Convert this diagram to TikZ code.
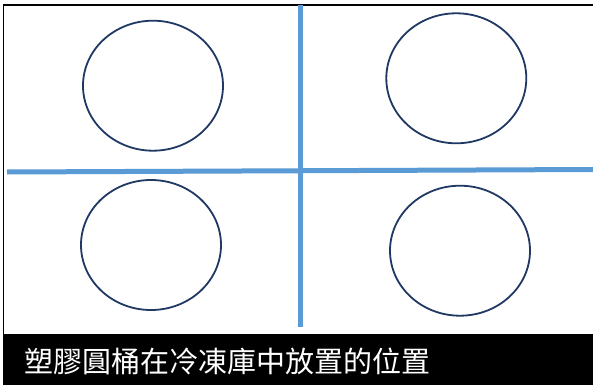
\documentclass[tikz,border=0pt]{standalone}
\usepackage{fontspec}
\newfontfamily\cjk{Noto Sans CJK TC}
\definecolor{gridblue}{RGB}{91,155,213}
\definecolor{tubnavy}{RGB}{31,56,100}
\begin{document}
\begin{tikzpicture}[x=1pt,y=-1pt,
  gridline/.style={draw=gridblue,line width=5pt},
  tub/.style={draw=tubnavy,line width=1.8pt},
  frameline/.style={draw=black,line width=1.6pt},
  caption/.style={text=white,font=\cjk\fontsize{29}{32}\selectfont,inner sep=0pt,anchor=base west}]
\useasboundingbox (0,0) rectangle (593,385);
\fill[white] (0,0) rectangle (593,385);
% frame
\coordinate (tl) at (3.5,5);
\coordinate (tr) at (593,5);
\coordinate (bl) at (3.5,334);
\draw[frameline] (tr) -- (tl) -- (bl);
\fill[black] (3,333.5) rectangle (593,385);
% grid lines
\coordinate (vtop) at (300,5);
\coordinate (vbot) at (300,327);
\coordinate (hl) at (7,172);
\coordinate (hr) at (593,169.5);
\draw[gridline] (vtop) -- (vbot);
\draw[gridline] (hl) -- (hr);
% tubs
\draw[tub] (153,85.7) ellipse [x radius=70, y radius=65];
\draw[tub] (456.3,78.3) ellipse [x radius=70, y radius=65];
\draw[tub] (151,245) ellipse [x radius=70, y radius=65];
\draw[tub] (460,250.7) ellipse [x radius=70, y radius=65];
% caption
\node[caption] (cap) at (24,372.5) {塑膠圓桶在冷凍庫中放置的位置};
\end{tikzpicture}
\end{document}
